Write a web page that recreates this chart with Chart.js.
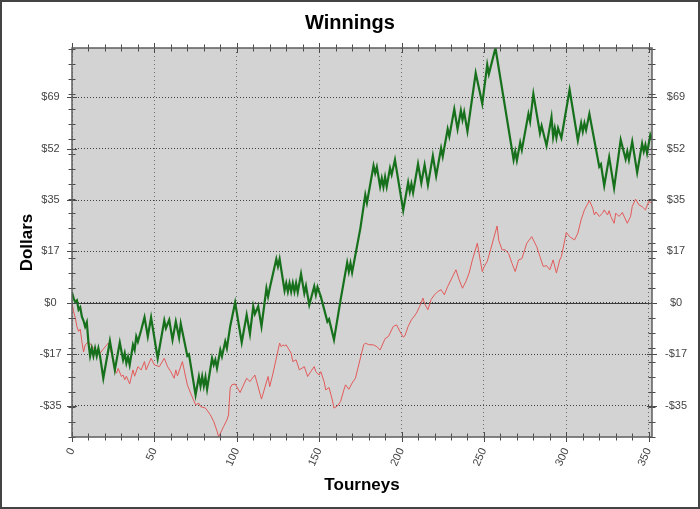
<!DOCTYPE html>
<html>
<head>
<meta charset="utf-8">
<script src="https://cdn.jsdelivr.net/npm/chart.js@4.4.1/dist/chart.umd.min.js"></script>
<style>
  body { margin: 0; background: #fff; }
  canvas { display: block; }
</style>
</head>
<body>
<canvas id="chart" width="700" height="509"></canvas>
<script>
// ===== DATA =====
const xTicks = [0, 50, 100, 150, 200, 250, 300, 350];
const yTicks = [-34.5, -17.25, 0, 17.25, 34.5, 51.75, 69];
const yTickLabels = ["-$35", "-$17", "$0", "$17", "$35", "$52", "$69"];

const greenTourney = [0,1,2,3,4,5,6,7,8,9,10,11,12,13,14,15,16,17,19,23,26,29,31,32,33,34,35,37,38,39,40,42,44,46,48,52,56,57,59,61,63,65,66,70,71,75,77,78,79,80,81,82,85,86,87,88,90,91,93,94,96,99,103,106,108,110,111,113,115,118,119,120,124,125,126,129,130,131,132,133,134,135,136,137,139,141,142,144,147,148,149,151,155,156,159,163,167,168,169,170,175,178,179,183,184,185,187,188,189,190,191,193,194,196,201,204,205,206,207,210,212,214,216,219,221,224,225,228,229,232,234,236,237,238,240,245,249,252,253,257,268,269,270,272,273,277,278,280,284,285,288,291,292,293,294,295,297,302,307,309,310,311,312,314,320,321,323,326,329,333,336,337,338,340,343,346,347,348,349,351,352];
const greenDollars = [3.5,1.5,0.2,0.8,-2.3,-1.5,-4.6,-6,-8,-6.5,-13.5,-17.8,-15.2,-17.8,-15.2,-17.8,-15.2,-17.8,-25.3,-12.8,-22.5,-13.3,-19.1,-16.9,-20.2,-18.1,-20.8,-14.1,-15.8,-11.3,-13,-9.1,-4.8,-11.3,-4.9,-18.6,-5.9,-8.5,-5.7,-12.4,-6.3,-11.7,-7,-17.8,-17.3,-30.9,-24.7,-27.9,-24.7,-27.9,-24.9,-28.9,-18.6,-20.8,-19.1,-21.9,-15.8,-18,-13,-15.2,-7.9,0.1,-13.3,-4,-10.4,-1.2,-3.7,-1.2,-7.9,4.9,2.1,4.9,14.7,12.2,14.7,4.1,6.6,3.8,6.6,3.8,6.6,3.8,6.6,3.6,9.7,3.2,5.7,-0.7,5.5,2.7,5.3,2.1,-6.3,-5.5,-12.4,1,13.5,10.5,13.3,10.2,25,36.2,33.5,46,43.5,45.6,39,41.8,38.9,42.2,39,45.2,43,48,31,40.4,37.3,39.9,37,46.6,40.2,46.3,39.6,49.3,42.6,51.9,49.1,58.3,55.8,65,58.3,64.5,61.4,64,57.5,77.1,66.8,79.9,76.8,85.5,48,50.8,47.8,53.8,51.3,63.4,60.8,70.1,56.9,59.4,52.7,62.3,55.6,58.6,55.4,58.6,55.3,71.5,54.5,60.3,57.5,60.3,58,63.4,45.7,46.5,39.3,48.9,38.5,54.7,48.2,50.8,48,54.1,43.7,53.4,50.8,53,50.2,56.4,55];

const redTourney = [0,1,2,3,4,5,6,7,8,10,13,17,19,22,24,26,27,28,30,31,32,33,35,37,38,40,42,44,45,48,50,53,56,58,60,62,63,64,67,70,72,75,77,78,81,84,86,88,89,92,94,95,96,97,99,100,102,106,108,109,111,115,119,120,122,126,127,128,129,130,133,134,136,138,141,143,145,147,148,150,151,153,154,156,158,159,161,163,165,166,168,170,172,177,178,180,183,185,187,190,192,195,197,199,201,202,204,206,209,211,213,214,216,218,220,222,224,226,228,230,233,235,237,239,241,243,246,248,249,250,252,254,258,259,261,263,265,267,269,271,273,276,279,282,284,286,288,290,292,294,296,297,300,302,305,307,309,311,314,316,317,318,320,322,323,325,326,327,329,330,332,334,337,339,340,342,344,346,348,350,352];
const redDollars = [0,-3,-5,-8,-9.6,-8.8,-13,-16.5,-14.1,-13,-15.2,-16.9,-15.5,-13.5,-17,-22.5,-23.6,-22,-24.7,-24.2,-25.8,-24.6,-27.2,-22.5,-24.6,-21.4,-22.5,-19.7,-22.5,-18.6,-20.8,-21.4,-18.6,-21.4,-23.1,-25.3,-22.5,-24.5,-19.7,-27.5,-30.3,-34.2,-33.7,-34.8,-35.3,-37.6,-39.8,-43,-45,-41.5,-39.3,-37.6,-28.6,-27.5,-27.2,-28.1,-30.1,-25.3,-26.4,-25.6,-24.2,-32.3,-24.7,-28.1,-23.6,-13.5,-14.7,-14.1,-14.4,-14.1,-16.9,-19.7,-19.1,-22.5,-21.4,-24.7,-23,-21.4,-23.1,-24.2,-23.1,-26.4,-29.2,-28.4,-32.6,-35.3,-34.6,-33.1,-29.2,-27.5,-29,-26.9,-25.3,-14.1,-13.5,-14,-14.1,-14.7,-15.8,-12,-11.3,-7.9,-7.4,-9.6,-11.5,-11.1,-7.9,-5.7,-3.5,-1.2,1.6,-0.3,-2.3,1.2,2.7,3.8,4.4,2.7,5.5,7.7,11.1,7.7,4.9,7.1,10,14.4,20,13.5,10.5,12,13.9,17.8,25.8,21,17.8,17.8,16.5,13.3,10.5,14.4,14.8,20,22.2,18.9,15.5,12.2,12.5,11.1,14.4,10,14.4,15.5,23.6,22.2,21.1,23.4,27.9,31.2,34.3,31.8,29.5,30.5,29,30.1,31.2,29.5,30.9,29,26.7,30.1,29,30.3,26.7,29,32.3,34.8,32.9,32.3,31.2,34,33.5];

const xMin = 0, xMax = 352;
const yMin = -45, yMax = 85.5;
const xMinorStep = 10, yMinorStep = 5;

// ===== PLOT FRAME / BACKGROUND =====
const framePlugin = {
  id: "frame",
  beforeDraw(chart) {
    const { ctx, chartArea: a } = chart;
    ctx.save();
    ctx.fillStyle = "#fff";
    ctx.fillRect(0, 0, chart.width, chart.height);
    ctx.fillStyle = "#d3d3d3";
    ctx.fillRect(a.left, a.top, a.right - a.left, a.bottom - a.top);
    ctx.restore();
  },
  beforeDatasetsDraw(chart) {
    const { ctx, chartArea: a, scales } = chart;
    const py = Math.round(scales.y.getPixelForValue(0)) + 0.5;
    ctx.save();
    ctx.strokeStyle = "#3a3a3a";
    ctx.lineWidth = 1;
    ctx.beginPath();
    ctx.moveTo(a.left, py);
    ctx.lineTo(a.right, py);
    ctx.stroke();
    ctx.restore();
  },
  afterDraw(chart) {
    const { ctx, chartArea: a, scales } = chart;
    ctx.save();
    ctx.strokeStyle = "#4a4a4a";
    ctx.lineWidth = 1;
    ctx.beginPath();
    for (let v = xMin; v <= 350; v += xMinorStep) {
      const px = Math.round(scales.x.getPixelForValue(v)) + 0.5;
      const len = v % 50 === 0 ? 5 : 3.5;
      ctx.moveTo(px, a.bottom - len); ctx.lineTo(px, a.bottom + len);
      ctx.moveTo(px, a.top - len); ctx.lineTo(px, a.top + len);
    }
    for (let v = yMin; v <= yMax; v += yMinorStep) {
      const py = Math.round(scales.y.getPixelForValue(v)) + 0.5;
      ctx.moveTo(a.left - 3.5, py); ctx.lineTo(a.left + 3.5, py);
      ctx.moveTo(a.right - 3.5, py); ctx.lineTo(a.right + 3.5, py);
    }
    yTicks.forEach(v => {
      const py = Math.round(scales.y.getPixelForValue(v)) + 0.5;
      ctx.moveTo(a.left - 5, py); ctx.lineTo(a.left + 5, py);
      ctx.moveTo(a.right - 5, py); ctx.lineTo(a.right + 5, py);
    });
    ctx.stroke();

    ctx.strokeStyle = "#5e5e5e";
    ctx.lineWidth = 1.5;
    ctx.strokeRect(a.left, a.top, a.right - a.left, a.bottom - a.top);

    ctx.strokeStyle = "#444";
    ctx.lineWidth = 2;
    ctx.strokeRect(1, 1, chart.width - 2, chart.height - 2);
    ctx.restore();
  }
};

// ===== CHART =====
const toPoints = (xs, ys) => xs.map((x, i) => ({ x: x, y: ys[i] }));
const dollarLabel = v => yTickLabels[yTicks.indexOf(v)];
const font = "'Liberation Sans', Arial, sans-serif";

new Chart(document.getElementById("chart"), {
  type: "line",
  data: {
    datasets: [
      { data: toPoints(greenTourney, greenDollars), borderColor: "#16701c", borderWidth: 2.2, pointRadius: 0, tension: 0 },
      { data: toPoints(redTourney, redDollars), borderColor: "#e35a5a", borderWidth: 1, pointRadius: 0, tension: 0 }
    ]
  },
  options: {
    responsive: false,
    animation: false,
    devicePixelRatio: 1,
    layout: { padding: 0 },
    plugins: {
      legend: { display: false },
      tooltip: { enabled: false },
      title: {
        display: true,
        text: "Winnings",
        color: "#000",
        font: { family: font, size: 20, weight: "bold" },
        padding: { top: 11, bottom: 13 }
      }
    },
    scales: {
      x: {
        type: "linear",
        min: xMin,
        max: xMax,
        afterBuildTicks: s => { s.ticks = xTicks.map(v => ({ value: v })); },
        afterFit: s => { s.height = 72; },
        grid: { color: "#6a6a6a", lineWidth: 1, drawTicks: false, borderDash: [1, 3] },
        border: { display: false, dash: [1, 3] },
        ticks: {
          autoSkip: false,
          minRotation: 65,
          maxRotation: 65,
          padding: 9,
          color: "#444",
          font: { family: font, size: 11 },
          callback: v => String(v)
        },
        title: {
          display: true,
          text: "Tourneys",
          color: "#000",
          font: { family: font, size: 17, weight: "bold" },
          padding: { top: 0, bottom: 13 }
        }
      },
      y: {
        type: "linear",
        position: "left",
        min: yMin,
        max: yMax,
        afterBuildTicks: s => { s.ticks = yTicks.map(v => ({ value: v })); },
        afterFit: s => { s.width = 72; },
        grid: { color: "#404040", lineWidth: 1, drawTicks: false, borderDash: [1, 2] },
        border: { display: false, dash: [1, 2] },
        ticks: {
          crossAlign: "center",
          padding: 10.5,
          color: "#444",
          font: { family: font, size: 11 },
          callback: dollarLabel
        },
        title: {
          display: true,
          text: "Dollars",
          color: "#000",
          font: { family: font, size: 17, weight: "bold" },
          padding: { top: 17, bottom: 0 }
        }
      },
      y2: {
        type: "linear",
        position: "right",
        min: yMin,
        max: yMax,
        afterBuildTicks: s => { s.ticks = yTicks.map(v => ({ value: v })); },
        afterFit: s => { s.width = 48; },
        grid: { drawOnChartArea: false, drawTicks: false },
        border: { display: false },
        ticks: {
          crossAlign: "center",
          padding: 13,
          color: "#444",
          font: { family: font, size: 11 },
          callback: dollarLabel
        }
      }
    }
  },
  plugins: [framePlugin]
});
</script>
</body>
</html>
